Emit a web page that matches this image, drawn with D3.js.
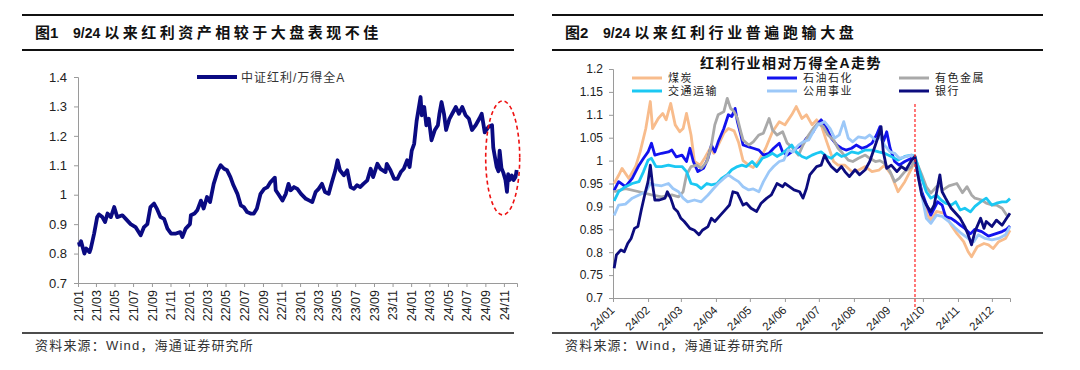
<!DOCTYPE html>
<html>
<head>
<meta charset="utf-8">
<script src="https://cdn.jsdelivr.net/npm/d3@7"></script>
<style>
  body { margin: 0; background: #fff; }
  svg { display: block; font-family: "Liberation Sans", "Noto Sans CJK SC", sans-serif; }
</style>
</head>
<body>
<svg id="chart" width="1080" height="370"></svg>
<script>
// ---- left chart: 中证红利 / 万得全A ----
var ratioDates = ["2021-01-04","2021-01-06","2021-01-11","2021-01-22","2021-01-28","2021-02-08","2021-02-12","2021-02-23","2021-03-05","2021-03-11","2021-03-22","2021-03-31","2021-04-08","2021-04-19","2021-04-30","2021-05-10","2021-05-27","2021-06-07","2021-06-23","2021-07-09","2021-07-26","2021-08-06","2021-08-17","2021-08-27","2021-09-08","2021-09-17","2021-09-29","2021-10-11","2021-10-22","2021-11-03","2021-11-19","2021-12-03","2021-12-10","2021-12-21",
  "2022-01-04","2022-01-07","2022-01-19","2022-01-28","2022-02-09","2022-02-18","2022-03-01","2022-03-11","2022-03-23","2022-04-06","2022-04-15","2022-04-26","2022-05-06","2022-05-17","2022-05-27","2022-06-09","2022-06-20","2022-06-30","2022-07-11","2022-07-22","2022-08-02","2022-08-12","2022-08-24","2022-09-05","2022-09-16","2022-09-26","2022-10-10","2022-10-13","2022-10-24","2022-11-04","2022-11-15","2022-11-24","2022-12-01","2022-12-12","2022-12-23",
  "2023-01-04","2023-01-20","2023-02-01","2023-02-10","2023-02-21","2023-03-03","2023-03-14","2023-03-24","2023-04-05","2023-04-14","2023-04-27","2023-05-04","2023-05-12","2023-05-25","2023-06-05","2023-06-16","2023-06-27","2023-07-07","2023-07-18","2023-07-28","2023-08-10","2023-08-21","2023-08-29","2023-09-12","2023-09-22","2023-10-09","2023-10-13","2023-10-25","2023-11-06","2023-11-17","2023-11-28","2023-12-08","2023-12-19","2023-12-27",
  "2024-01-03","2024-01-11","2024-01-19","2024-02-01","2024-02-05","2024-02-13","2024-02-20","2024-02-28","2024-03-08","2024-03-19","2024-03-29","2024-04-03","2024-04-10","2024-04-18","2024-04-25","2024-05-06","2024-05-15","2024-05-27","2024-06-06","2024-06-17","2024-06-28","2024-07-09","2024-07-19","2024-07-31","2024-08-12","2024-08-20","2024-08-30","2024-09-11","2024-09-23","2024-09-27","2024-10-08","2024-10-14","2024-10-18","2024-10-24","2024-10-30","2024-11-06","2024-11-11","2024-11-15","2024-11-20","2024-11-27","2024-12-03","2024-12-09","2024-12-13"];
var ratioValues = [0.839,0.830,0.842,0.800,0.817,0.805,0.817,0.868,0.924,0.933,0.924,0.907,0.936,0.924,0.958,0.924,0.930,0.918,0.900,0.890,0.862,0.890,0.900,0.958,0.970,0.953,0.924,0.918,0.885,0.868,0.868,0.873,0.856,0.885,
  0.900,0.930,0.936,0.947,0.980,0.953,0.992,0.975,1.037,1.083,1.100,1.088,1.083,1.060,1.032,1.003,0.964,0.958,0.941,0.936,0.936,0.953,1.003,1.020,1.026,1.043,1.058,1.015,0.998,0.980,1.003,1.037,1.015,1.026,1.020,
  1.003,0.986,0.980,0.975,1.009,1.020,1.037,1.009,1.003,1.037,1.083,1.117,1.083,1.066,1.083,1.026,1.020,1.032,1.026,1.037,1.049,1.088,1.060,1.105,1.088,1.077,1.105,1.083,1.054,1.054,1.077,1.088,1.117,1.094,
  1.150,1.173,1.250,1.332,1.270,1.298,1.236,1.258,1.185,1.220,1.236,1.275,1.315,1.275,1.220,1.258,1.275,1.298,1.275,1.298,1.270,1.258,1.220,1.236,1.258,1.275,1.212,1.230,1.236,1.160,1.095,1.080,1.150,1.090,1.075,1.050,1.010,1.070,1.050,1.065,1.050,1.060,1.084];
var leftYTicks = [0.7, 0.8, 0.9, 1.0, 1.1, 1.2, 1.3, 1.4];

// ---- right chart: 红利行业相对万得全A走势 (2024, MM/DD) ----
var coal = [["01/02",0.950],["01/06",0.968],["01/09",0.983],["01/15",0.961],["01/21",0.987],["01/25",1.019],["01/30",1.070],["02/03",1.129],["02/05",1.070],["02/10",1.092],["02/14",1.103],["02/17",1.089],["02/21",1.125],["02/25",1.078],["02/29",1.063],["03/03",1.070],["03/06",1.103],["03/10",1.056],["03/13",0.998],["03/18",0.990],["03/22",1.005],["03/27",1.027],["03/30",1.016],["04/03",1.034],["04/08",1.060],["04/12",1.070],["04/17",1.065],["04/21",1.040],["04/25",1.000],["04/30",0.990],["05/04",0.985],["05/09",1.000],["05/15",1.027],["05/21",1.063],["05/27",1.085],["06/01",1.078],["06/07",1.100],["06/11",1.118],["06/16",1.092],["06/20",1.100],["06/25",1.078],["06/29",1.089],["07/03",1.078],["07/08",1.041],["07/11",1.020],["07/14",0.998],["07/18",0.990],["07/24",0.990],["07/30",0.976],["08/05",0.979],["08/11",0.987],["08/17",0.976],["08/23",0.979],["08/28",0.990],["09/03",0.969],["09/09",0.932],["09/15",0.954],["09/21",0.983],["09/24",1.000],["09/30",0.930],["10/05",0.881],["10/08",0.870],["10/13",0.889],["10/20",0.885],["10/26",0.859],["10/31",0.841],["11/06",0.823],["11/10",0.801],["11/13",0.790],["11/18",0.812],["11/24",0.819],["11/28",0.816],["12/02",0.808],["12/07",0.823],["12/13",0.830],["12/17",0.848]];
var oil = [["01/02",0.935],["01/06",0.954],["01/12",0.943],["01/18",0.961],["01/24",0.990],["01/28",1.005],["02/01",1.019],["02/04",1.038],["02/07",1.012],["02/13",1.016],["02/19",1.019],["02/22",1.023],["02/26",1.008],["03/02",1.012],["03/06",0.998],["03/09",1.027],["03/12",0.998],["03/16",0.976],["03/21",0.983],["03/25",1.005],["03/28",1.034],["03/31",1.019],["04/03",1.041],["04/08",1.070],["04/12",1.100],["04/15",1.096],["04/18",1.114],["04/20",1.085],["04/23",1.056],["04/25",1.034],["04/30",1.030],["05/04",1.027],["05/09",1.023],["05/13",1.012],["05/18",1.016],["05/22",1.027],["05/27",1.038],["05/30",1.019],["06/03",1.012],["06/07",1.019],["06/11",1.027],["06/16",1.034],["06/20",1.049],["06/26",1.063],["06/29",1.078],["07/03",1.089],["07/08",1.070],["07/12",1.049],["07/17",1.034],["07/21",1.027],["07/25",1.023],["07/30",1.027],["08/03",1.034],["08/08",1.027],["08/12",1.030],["08/17",1.038],["08/21",1.056],["08/24",1.074],["08/27",1.041],["08/30",1.063],["09/02",1.027],["09/06",0.998],["09/10",0.990],["09/15",0.998],["09/21",1.005],["09/24",1.000],["09/30",0.932],["10/04",0.905],["10/08",0.881],["10/14",0.910],["10/18",0.903],["10/21",0.878],["10/26",0.874],["10/30",0.867],["11/03",0.859],["11/07",0.852],["11/12",0.840],["11/16",0.850],["11/22",0.845],["11/28",0.835],["12/04",0.840],["12/10",0.845],["12/14",0.850],["12/17",0.857]];
var metal = [["01/02",0.932],["01/12",0.939],["01/24",0.932],["02/04",0.925],["02/13",0.921],["02/22",0.925],["02/28",0.921],["03/03",0.932],["03/06",0.969],["03/10",0.987],["03/15",0.990],["03/19",0.983],["03/24",0.998],["03/28",1.034],["03/31",1.078],["04/03",1.100],["04/08",1.107],["04/11",1.136],["04/14",1.114],["04/17",1.107],["04/20",1.092],["04/23",1.063],["04/25",1.045],["04/30",1.034],["05/04",1.041],["05/09",1.056],["05/13",1.060],["05/18",1.092],["05/21",1.067],["05/25",1.056],["05/30",1.063],["06/03",1.038],["06/07",1.030],["06/13",1.012],["06/17",1.034],["06/22",1.056],["06/26",1.070],["06/30",1.081],["07/05",1.074],["07/09",1.056],["07/14",1.045],["07/18",1.027],["07/22",1.016],["07/27",1.001],["07/31",0.998],["08/05",1.005],["08/11",1.012],["08/15",1.005],["08/20",0.998],["08/24",1.000],["08/28",0.994],["09/02",0.976],["09/06",0.954],["09/10",0.961],["09/15",0.976],["09/21",0.987],["09/24",1.005],["09/30",0.969],["10/04",0.943],["10/08",0.929],["10/13",0.943],["10/16",0.947],["10/18",0.935],["10/24",0.945],["10/31",0.950],["11/05",0.930],["11/09",0.943],["11/13",0.925],["11/16",0.918],["11/22",0.914],["11/26",0.907],["12/01",0.903],["12/05",0.903],["12/10",0.896],["12/14",0.881],["12/17",0.880]];
var transport = [["01/02",0.912],["01/06",0.932],["01/12",0.943],["01/18",0.950],["01/24",0.954],["01/28",0.976],["02/01",1.001],["02/04",1.005],["02/08",0.987],["02/13",0.987],["02/19",0.990],["02/25",0.987],["03/02",0.987],["03/06",0.976],["03/10",0.950],["03/15",0.947],["03/19",0.939],["03/24",0.950],["03/28",0.947],["04/02",0.950],["04/06",0.961],["04/11",0.969],["04/15",0.980],["04/20",0.987],["04/24",0.990],["04/28",0.987],["05/03",0.998],["05/07",0.987],["05/12",1.005],["05/16",1.009],["05/21",1.016],["05/25",1.009],["05/30",1.016],["06/04",1.027],["06/07",1.034],["06/11",1.019],["06/16",1.009],["06/20",1.005],["06/25",1.012],["06/29",1.016],["07/03",1.019],["07/08",1.009],["07/12",1.005],["07/17",1.016],["07/21",1.009],["07/25",1.012],["07/30",1.019],["08/05",1.016],["08/11",1.023],["08/17",1.023],["08/23",1.019],["08/28",1.016],["09/03",1.009],["09/09",1.001],["09/15",1.009],["09/21",1.012],["09/24",1.009],["09/30",0.961],["10/04",0.932],["10/08",0.918],["10/13",0.925],["10/17",0.914],["10/21",0.907],["10/26",0.903],["10/30",0.910],["11/03",0.892],["11/07",0.896],["11/12",0.888],["11/16",0.900],["11/21",0.910],["11/26",0.918],["12/01",0.903],["12/05",0.907],["12/10",0.910],["12/14",0.910],["12/17",0.917]];
var utility = [["01/02",0.880],["01/06",0.903],["01/12",0.905],["01/18",0.918],["01/24",0.925],["01/30",0.932],["02/03",0.950],["02/07",0.947],["02/13",0.945],["02/19",0.950],["02/23",0.939],["02/28",0.932],["03/03",0.918],["03/07",0.910],["03/13",0.914],["03/19",0.910],["03/25",0.925],["03/30",0.939],["04/03",0.950],["04/08",0.961],["04/12",0.969],["04/17",0.960],["04/21",0.954],["04/25",0.943],["04/30",0.936],["05/04",0.938],["05/09",0.932],["05/13",0.954],["05/18",0.976],["05/22",0.987],["05/27",0.998],["05/31",1.001],["06/04",1.023],["06/08",1.019],["06/13",1.034],["06/17",1.041],["06/22",1.045],["06/26",1.063],["06/30",1.078],["07/06",1.085],["07/11",1.070],["07/15",1.049],["07/19",1.056],["07/23",1.085],["07/27",1.049],["07/31",1.041],["08/05",1.052],["08/11",1.049],["08/15",1.056],["08/20",1.045],["08/24",1.052],["08/28",1.034],["09/02",1.019],["09/06",1.016],["09/10",1.005],["09/15",1.008],["09/21",1.012],["09/24",1.001],["09/30",0.925],["10/04",0.874],["10/08",0.863],["10/13",0.881],["10/18",0.878],["10/24",0.867],["10/30",0.852],["11/04",0.841],["11/10",0.830],["11/15",0.823],["11/19",0.838],["11/25",0.830],["12/01",0.827],["12/07",0.830],["12/13",0.838],["12/17",0.856]];
var bank = [["01/02",0.765],["01/04",0.794],["01/08",0.805],["01/11",0.801],["01/14",0.819],["01/17",0.830],["01/20",0.852],["01/23",0.856],["01/26",0.892],["01/29",0.925],["02/01",0.954],["02/03",0.990],["02/05",0.947],["02/07",0.914],["02/11",0.914],["02/16",0.918],["02/18",0.932],["02/21",0.918],["02/24",0.896],["02/27",0.889],["03/01",0.874],["03/04",0.867],["03/09",0.852],["03/13",0.848],["03/17",0.838],["03/20",0.848],["03/25",0.856],["03/28",0.874],["03/31",0.867],["04/05",0.881],["04/09",0.892],["04/13",0.903],["04/16",0.932],["04/20",0.929],["04/25",0.903],["04/28",0.907],["05/02",0.896],["05/07",0.889],["05/11",0.907],["05/16",0.918],["05/20",0.925],["05/25",0.950],["05/30",0.943],["06/01",0.950],["06/05",0.943],["06/09",0.936],["06/14",0.932],["06/17",0.918],["06/20",0.939],["06/23",0.969],["06/29",0.987],["07/03",0.990],["07/06",1.012],["07/09",0.998],["07/12",0.987],["07/17",0.976],["07/21",0.987],["07/24",0.976],["07/28",0.965],["08/02",0.980],["08/06",0.969],["08/11",0.980],["08/15",0.998],["08/20",1.034],["08/23",1.056],["08/25",1.074],["08/27",1.019],["08/30",0.983],["09/03",0.990],["09/08",0.976],["09/12",0.987],["09/16",0.980],["09/21",1.001],["09/24",1.009],["09/26",0.976],["09/30",0.925],["10/04",0.903],["10/08",0.889],["10/11",0.903],["10/14",0.943],["10/16",0.969],["10/18",0.932],["10/21",0.918],["10/26",0.896],["10/30",0.885],["11/03",0.874],["11/07",0.856],["11/10",0.838],["11/13",0.816],["11/16",0.845],["11/21",0.874],["11/24",0.852],["11/26",0.867],["12/01",0.856],["12/05",0.870],["12/10",0.859],["12/14",0.874],["12/17",0.885]];
var industryNames = ["煤炭", "石油石化", "有色金属", "交通运输", "公用事业", "银行"];
var industryColors = ["#f8bc8c", "#1212ee", "#a9a9a9", "#1bc8f3", "#9cc8f8", "#0c0c7e"];
var rightYTicks = [0.7, 0.75, 0.8, 0.85, 0.9, 0.95, 1.0, 1.05, 1.1, 1.15, 1.2];
var markDate = "09/24";

var svg = d3.select("#chart");
var fmtNum = function(d) { return String(+d.toFixed(2)); };
var axisColor = "#9a9a9a";

// panel frames: top rules, titles, bottom rules, source lines
function drawFrame(x0, x1, num, title, spacing) {
  svg.append("line").attr("x1", x0).attr("x2", x1).attr("y1", 15).attr("y2", 15)
    .attr("stroke", "#111").attr("stroke-width", 1.8);
  svg.append("line").attr("x1", x0).attr("x2", x1).attr("y1", 50).attr("y2", 50)
    .attr("stroke", "#111").attr("stroke-width", 1.8);
  svg.append("line").attr("x1", x0).attr("x2", x1).attr("y1", 333).attr("y2", 333)
    .attr("stroke", "#111").attr("stroke-width", 1.6);
  var t = svg.append("text").attr("x", x0 + 13).attr("y", 38)
    .style("font-weight", "bold").style("font-size", "15px").attr("fill", "#111");
  t.append("tspan").text(num);
  t.append("tspan").attr("x", x0 + 51).text("9/24 ").style("font-size", "14px");
  t.append("tspan").text(title).style("letter-spacing", spacing);
  svg.append("text").attr("x", x0 + 13).attr("y", 350)
    .style("font-size", "13px").style("letter-spacing", "1.2px").attr("fill", "#333")
    .text("资料来源：Wind，海通证券研究所");
}
drawFrame(22, 514, "图1", "以来红利资产相较于大盘表现不佳", "3.5px");
drawFrame(552, 1043, "图2", "以来红利行业普遍跑输大盘", "3.6px");

function styleAxis(g) {
  g.select(".domain").attr("stroke", axisColor);
  g.selectAll(".tick line").attr("stroke", axisColor);
  g.selectAll(".tick text").attr("fill", "#222");
}

// ---- left chart ----
var parseL = d3.timeParse("%Y-%m-%d");
var leftData = ratioDates.map(function(d, i) { return { date: parseL(d), value: ratioValues[i] }; });

var xL = d3.scaleTime().domain([new Date(2021, 0, 1), new Date(2024, 11, 14)]).range([78, 517]);
var yL = d3.scaleLinear().domain([0.7, 1.4]).range([283, 77]);

svg.append("g").attr("transform", "translate(78,0)")
  .call(d3.axisLeft(yL).tickValues(leftYTicks).tickFormat(fmtNum).tickSize(4).tickPadding(7))
  .call(styleAxis)
  .selectAll("text").style("font-size", "13px").style("font-family", "Liberation Sans, sans-serif");

var gxL = svg.append("g").attr("transform", "translate(0,283)")
  .call(d3.axisBottom(xL).tickValues(d3.timeMonths(new Date(2021, 0, 1), new Date(2024, 11, 2), 2))
    .tickFormat(d3.timeFormat("%y/%m")).tickSize(4))
  .call(styleAxis);
gxL.selectAll(".tick text")
  .attr("transform", "rotate(-90)").attr("x", -7).attr("y", 0).attr("dy", "0.35em")
  .style("text-anchor", "end").style("font-size", "12.5px");

svg.append("path").datum(leftData)
  .attr("fill", "none").attr("stroke", "#0a0a82").attr("stroke-width", 3.8)
  .attr("stroke-linejoin", "round")
  .attr("d", d3.line().x(function(d) { return xL(d.date); }).y(function(d) { return yL(d.value); }));

// dashed ellipse round the post-9/24 drop
svg.append("ellipse")
  .attr("cx", xL(parseL("2024-10-28"))).attr("cy", yL(1.125))
  .attr("rx", 17).attr("ry", 57)
  .attr("fill", "none").attr("stroke", "#ee1111").attr("stroke-width", 1.6)
  .attr("stroke-dasharray", "4,3");

// legend
svg.append("line").attr("x1", 197).attr("x2", 237).attr("y1", 77).attr("y2", 77)
  .attr("stroke", "#0a0a82").attr("stroke-width", 3.8);
svg.append("text").attr("x", 241).attr("y", 81.5).style("font-size", "12px").attr("fill", "#333")
  .style("letter-spacing", "1px").text("中证红利/万得全A");

// ---- right chart ----
var parseR = function(s) { return d3.timeParse("%Y/%m/%d")("2024/" + s); };
var industries = [coal, oil, metal, transport, utility, bank].map(function(arr, i) {
  return { name: industryNames[i], color: industryColors[i],
    values: arr.map(function(p) { return { date: parseR(p[0]), value: p[1] }; }) };
});

var xR = d3.scaleTime().domain([new Date(2024, 0, 1), new Date(2024, 11, 17)]).range([613, 1010]);
var yR = d3.scaleLinear().domain([0.7, 1.2]).range([298, 69]);

svg.append("g").attr("transform", "translate(613,0)")
  .call(d3.axisLeft(yR).tickValues(rightYTicks).tickFormat(fmtNum).tickSize(4).tickPadding(6))
  .call(styleAxis)
  .selectAll("text").style("font-size", "12px");

var gxR = svg.append("g").attr("transform", "translate(0,298)")
  .call(d3.axisBottom(xR).tickValues(d3.timeMonths(new Date(2024, 0, 1), new Date(2024, 11, 2)))
    .tickFormat(d3.timeFormat("%y/%m")).tickSize(4))
  .call(styleAxis);
gxR.selectAll(".tick text")
  .attr("transform", "translate(-1,10) rotate(-45)").attr("x", 0).attr("y", 0).attr("dy", "0.35em")
  .style("text-anchor", "end").style("font-size", "11.5px");

var lineR = d3.line().x(function(d) { return xR(d.date); }).y(function(d) { return yR(d.value); });
svg.append("g").selectAll("path").data(industries).enter().append("path")
  .attr("fill", "none").attr("stroke", function(d) { return d.color; })
  .attr("stroke-width", 2.8).attr("stroke-linejoin", "round")
  .attr("d", function(d) { return lineR(d.values); });

// 9/24 marker
svg.append("line")
  .attr("x1", xR(parseR(markDate))).attr("x2", xR(parseR(markDate)))
  .attr("y1", 104).attr("y2", 310)
  .attr("stroke", "#ff2020").attr("stroke-width", 1.2).attr("stroke-dasharray", "3,2");

svg.append("text").attr("x", 791).attr("y", 68).attr("text-anchor", "middle")
  .style("font-size", "14px").style("font-weight", "bold").style("letter-spacing", "1.5px")
  .attr("fill", "#111").text("红利行业相对万得全A走势");

var legX = [632, 767, 899], legY = [78, 91];
var leg = svg.append("g").selectAll("g").data(industries).enter().append("g")
  .attr("transform", function(d, i) { return "translate(" + legX[i % 3] + "," + legY[Math.floor(i / 3)] + ")"; });
leg.append("line").attr("x1", 0).attr("x2", 30).attr("y1", 0).attr("y2", 0)
  .attr("stroke", function(d) { return d.color; }).attr("stroke-width", 3);
leg.append("text").attr("x", 36).attr("y", 4).style("font-size", "11px").style("letter-spacing", "1.5px")
  .attr("fill", "#222").text(function(d) { return d.name; });
</script>
</body>
</html>
